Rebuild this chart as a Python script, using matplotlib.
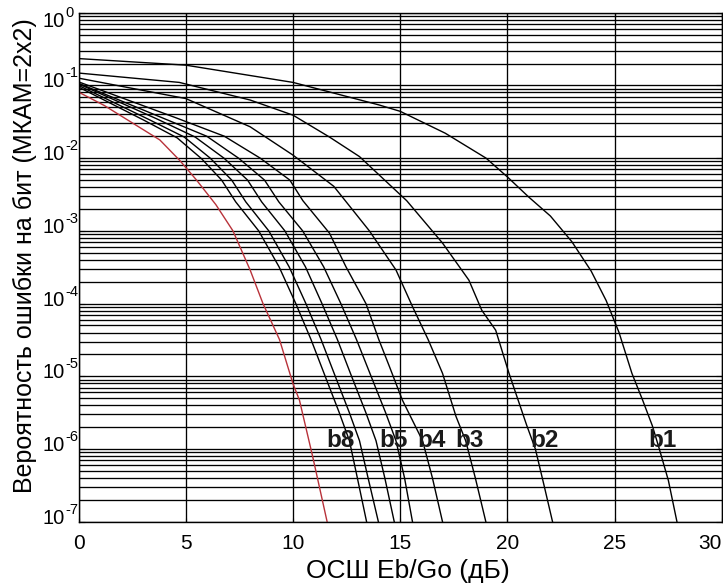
import matplotlib
matplotlib.use("Agg")
import matplotlib.pyplot as plt
import matplotlib.font_manager as fm
from matplotlib.ticker import LogLocator, NullFormatter
from matplotlib.transforms import blended_transform_factory, offset_copy

# Keep the regular-width Liberation Sans faces only
fm.fontManager.ttflist = [f for f in fm.fontManager.ttflist if 'Narrow' not in f.fname]

plt.rcParams['font.family'] = ['Liberation Sans', 'DejaVu Sans']

# Bit error rate vs. Eb/Go for each bit of the 2x2 QAM symbol (b1..b8)
# plus the reference curve (red).
ref_x = [0, 1.2, 2.55, 3.79, 4.72, 5.5, 6.4, 7.2, 8.0, 8.6, 9.37, 10.0, 10.3, 10.92, 11.59]
ref_p = [0.081, 0.053, 0.030, 0.0178, 0.0093, 0.005, 2.3e-3, 1.0e-3, 2.9e-4, 1.0e-4,
         3.2e-5, 7.9e-6, 4.7e-6, 7.8e-7, 1e-7]

b8_x = [0, 3.07, 4.6, 5.74, 6.67, 7.33, 8.40, 9.35, 10.13, 10.84, 11.5, 12.15, 12.63, 13.0, 13.43]
b8_p = [0.095, 0.033, 0.019, 0.0098, 0.005, 0.0025, 1e-3, 3.2e-4, 1e-4, 3.2e-5,
        1e-5, 3.2e-6, 1.3e-6, 4e-7, 1e-7]

b7_x = [0, 3.28, 4.93, 6.14, 7.14, 7.80, 8.87, 9.82, 10.6, 11.31, 11.97, 12.62, 13.1, 13.5, 13.98]
b7_p = [0.100, 0.034, 0.0195, 0.010, 0.005, 0.0025, 1e-3, 3.2e-4, 1e-4, 3.2e-5,
        1e-5, 3.2e-6, 1.3e-6, 4e-7, 1e-7]

b6_x = [0, 3.62, 5.44, 6.78, 7.88, 8.54, 9.62, 10.58, 11.35, 12.07, 12.73, 13.39, 13.87, 14.28, 14.72]
b6_p = [0.105, 0.035, 0.0195, 0.010, 0.005, 0.0025, 1e-3, 3.2e-4, 1e-4, 3.2e-5,
        1e-5, 3.2e-6, 1.3e-6, 4e-7, 1e-7]

b5_x = [0, 3.99, 5.98, 7.46, 8.67, 9.34, 10.45, 11.43, 12.23, 12.96, 13.64, 14.31, 14.8, 15.2, 15.57]
b5_p = [0.107, 0.035, 0.020, 0.010, 0.005, 0.0025, 1e-3, 3.2e-4, 1e-4, 3.2e-5,
        1e-5, 3.2e-6, 1.3e-6, 4e-7, 1e-7]

b4_x = [0, 4.53, 6.8, 8.47, 9.85, 10.46, 11.7, 12.47, 13.4, 14.0, 14.5, 15.1, 16.04, 16.5, 16.97]
b4_p = [0.112, 0.036, 0.020, 0.010, 0.005, 0.0026, 9.3e-4, 3.2e-4, 1e-4, 3.2e-5,
        1.35e-5, 4.7e-6, 1.3e-6, 4e-7, 1e-7]

b3_x = [0, 5, 8, 10, 11.9, 13.56, 14.8, 15.57, 16.3, 16.97, 17.6, 18.05, 18.5, 18.99]
b3_p = [0.126, 0.066, 0.027, 0.011, 0.0041, 1.0e-3, 2.9e-4, 9.1e-5, 3.2e-5,
        1.1e-5, 2.8e-6, 1.3e-6, 4e-7, 1e-7]

b2_x = [0, 4.7, 8, 10, 11.7, 13.1, 15.3, 16.97, 18.2, 18.8, 19.45, 20.07, 20.9, 21.3, 21.7, 22.1]
b2_p = [0.148, 0.110, 0.063, 0.039, 0.0195, 0.0105, 0.0026, 6.8e-4, 2.1e-4,
        8.1e-5, 4.3e-5, 1.1e-5, 2.1e-6, 1e-6, 3.2e-7, 1e-7]

b1_x = [0, 5, 10, 14, 15, 17.1, 19, 20, 21, 22.0, 23.0, 23.9, 24.6, 25.2, 25.8,
        26.3, 26.75, 27.05, 27.5, 27.9]
b1_p = [0.234, 0.190, 0.110, 0.054, 0.044, 0.022, 0.010, 0.0055, 0.0029, 1.6e-3,
        7.1e-4, 2.8e-4, 1.1e-4, 4e-5, 1.1e-5, 4.7e-6, 2.1e-6, 1.07e-6, 3.7e-7, 1e-7]

bit_curves = [(b8_x, b8_p), (b7_x, b7_p), (b6_x, b6_p), (b5_x, b5_p),
              (b4_x, b4_p), (b3_x, b3_p), (b2_x, b2_p), (b1_x, b1_p)]

curve_labels = ['b8', 'b5', 'b4', 'b3', 'b2', 'b1']
label_x = [11.55, 14.02, 15.8, 17.59, 21.08, 26.58]
label_y = 1.07e-6

x_ticks = [0, 5, 10, 15, 20, 25, 30]
y_ticks = [1, 1e-1, 1e-2, 1e-3, 1e-4, 1e-5, 1e-6, 1e-7]
y_tick_exps = ['0', '-1', '-2', '-3', '-4', '-5', '-6', '-7']

fig = plt.figure(figsize=(7.23, 5.88), dpi=100)
ax = fig.add_axes([0.1086, 0.1127, 0.8900, 0.8657])
ax.set_yscale('log')
ax.set_xlim(0, 30)
ax.set_ylim(1e-7, 1)

ax.set_xticks(x_ticks)
ax.set_yticks(y_ticks)
ax.yaxis.set_minor_locator(LogLocator(base=10, subs=range(2, 10), numticks=100))
ax.yaxis.set_minor_formatter(NullFormatter())

ax.yaxis.grid(True, which='both', color='black', lw=0.95, ls='-')
ax.xaxis.grid(True, which='major', color='black', lw=0.95, ls='-')
ax.set_axisbelow(True)

for xs, ps in bit_curves:
    ax.plot(xs, ps, color='black', lw=1.0)
ax.plot(ref_x, ref_p, color='#b8323a', lw=1.0)

for name, lx in zip(curve_labels, label_x):
    ax.text(lx, label_y, name, fontsize=17.5, fontweight='bold', color='#1a1a1a',
            ha='left', va='baseline')

ax.tick_params(axis='both', which='both', direction='in', right=True, top=True,
               labelsize=15, color='black')
ax.tick_params(axis='y', which='both', labelleft=False)
ax.tick_params(axis='y', which='major', length=4)
ax.tick_params(axis='y', which='minor', length=2.5)
ax.tick_params(axis='x', which='major', length=3, pad=9)

# decade labels written as "10" with a raised exponent
ytrans = blended_transform_factory(ax.transAxes, ax.transData)
for val, ex in zip(y_ticks, y_tick_exps):
    drop = -14 if ex == '0' else -2
    t_base = offset_copy(ytrans, fig=fig, x=-13.5, y=drop, units='dots')
    t_exp = offset_copy(ytrans, fig=fig, x=-13.0, y=drop + 10, units='dots')
    ax.text(0, val, '10', transform=t_base, ha='right', va='baseline', fontsize=14.5)
    ax.text(0, val, ex, transform=t_exp, ha='left', va='baseline', fontsize=10.5)

for sp in ax.spines.values():
    sp.set_color('black')
    sp.set_linewidth(1.0)

ax.set_xlabel('ОСШ Eb/Go (дБ)', fontsize=19)
ax.xaxis.set_label_coords(0.512, -0.073)
ax.set_ylabel('Вероятность ошибки на бит (МКАМ=2x2)', fontsize=18)
ax.yaxis.set_label_coords(-0.064, 0.522)

fig.canvas.draw()
xt = ax.get_xticklabels()
xt[-1].set_horizontalalignment('right')

fig.savefig('out.png', dpi=100)
